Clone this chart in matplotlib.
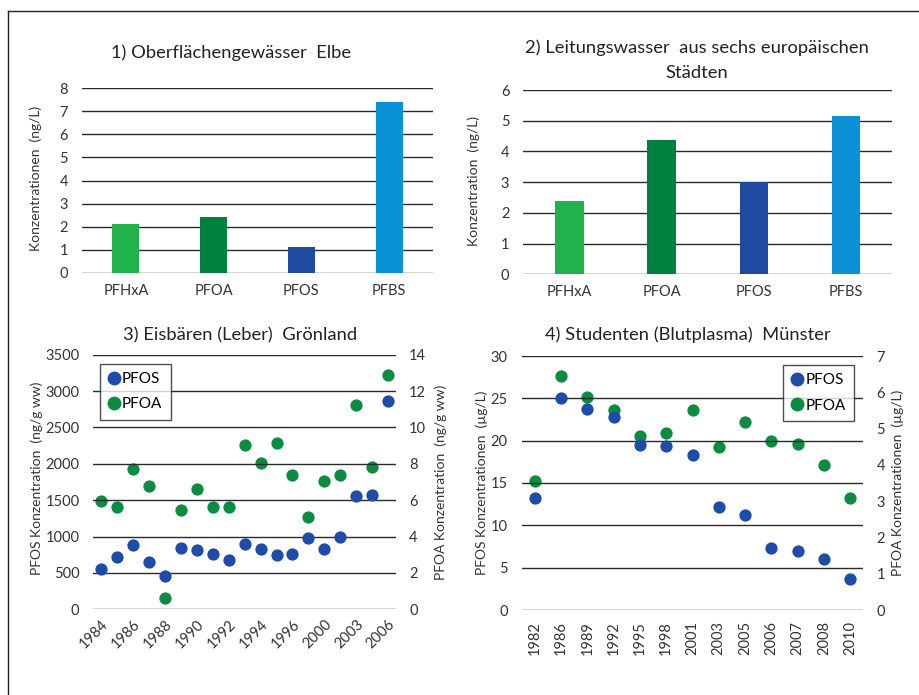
import matplotlib
matplotlib.use("Agg")
import matplotlib.pyplot as plt
import numpy as np
from matplotlib.lines import Line2D

plt.rcParams['font.family'] = ['Lato', 'DejaVu Sans']

# ---------------- data ----------------
compounds = ['PFHxA', 'PFOA', 'PFOS', 'PFBS']
elbe_values = [2.1, 2.4, 1.1, 7.4]
tap_values = [2.4, 4.37, 3.0, 5.15]

bear_years = ['1984', '1985', '1986', '1987', '1988', '1989', '1990', '1991',
              '1992', '1993', '1994', '1995', '1996', '1998', '2000', '2002',
              '2003', '2004', '2006']
bear_pfos = [555, 715, 885, 645, 455, 845, 820, 765, 675, 900, 830, 750,
             765, 975, 830, 990, 1555, 1565, 2870]
bear_pfoa = [5.95, 5.6, 7.7, 6.8, 0.6, 5.45, 6.6, 5.6, 5.6, 9.05, 8.05, 9.15,
             7.4, 5.05, 7.05, 7.4, 11.25, 7.8, 12.9]

stud_years = ['1982', '1986', '1989', '1992', '1995', '1998', '2001', '2003',
              '2005', '2006', '2007', '2008', '2010']
stud_pfos = [13.2, 25.0, 23.7, 22.8, 19.5, 19.4, 18.3, 12.2, 11.2, 7.3, 7.0,
             6.0, 3.7]
stud_pfoa = [3.56, 6.46, 5.88, 5.5, 4.79, 4.87, 5.5, 4.48, 5.19, 4.67, 4.58,
             4.0, 3.08]

bar_colors = ['#22B24C', '#00813F', '#1E4AA0', '#0B92D6']
c_blue = '#1F4CA8'
c_green = '#0E8B42'
grid_c = '#2a2a2a'
txt_c = '#333333'

W, H = 919, 695
fig = plt.figure(figsize=(W / 100, H / 100), dpi=100)


def ax_px(l, r, t, b):
    return fig.add_axes([l / W, 1 - b / H, (r - l) / W, (b - t) / H])


def ftext(x, y, s, **kw):
    fig.text(x / W, 1 - y / H, s, **kw)


def style(ax):
    for sp in ax.spines.values():
        sp.set_visible(False)
    ax.tick_params(length=0, colors=txt_c, labelsize=10.5)
    ax.yaxis.grid(True, color=grid_c, lw=1.0)
    ax.set_axisbelow(True)


# frame
fig.add_artist(Line2D([8 / W, 1], [1 - 11 / H, 1 - 11 / H], color='#222222', lw=1.0))
fig.add_artist(Line2D([8 / W, 8 / W], [1 - 11 / H, 0], color='#222222', lw=1.0))

# ---------------- panel 1 ----------------
ax1 = ax_px(82, 433, 88.3, 272.7)
style(ax1)
x = np.arange(len(compounds))
ax1.bar(x, elbe_values, width=0.31, color=bar_colors, zorder=3)
ax1.set_xlim(-0.5, 3.5)
ax1.set_ylim(0, 8)
ax1.set_yticks(range(0, 9))
ax1.set_xticks(x, compounds)
ax1.tick_params(axis='y', pad=10)
ax1.tick_params(axis='x', pad=8)
ftext(231, 53, '1) Oberflächengewässer  Elbe', ha='center', va='center',
      fontsize=13.2, color='#222222')
ftext(36, 178, 'Konzentrationen  (ng/L)', rotation=90, ha='center', va='center',
      fontsize=10, color=txt_c)

# ---------------- panel 2 ----------------
ax2 = ax_px(523.3, 892.3, 90, 274.3)
style(ax2)
ax2.bar(x, tap_values, width=0.31, color=bar_colors, zorder=3)
ax2.set_xlim(-0.5, 3.5)
ax2.set_ylim(0, 6)
ax2.set_yticks(range(0, 7))
ax2.set_xticks(x, compounds)
ax2.tick_params(axis='y', pad=10)
ax2.tick_params(axis='x', pad=8)
ftext(697, 48, '2) Leitungswasser  aus sechs europäischen', ha='center', va='center',
      fontsize=13.2, color='#222222')
ftext(697, 73, 'Städten', ha='center', va='center', fontsize=13.2, color='#222222')
ftext(474, 181, 'Konzentration  (ng/L)', rotation=90, ha='center', va='center',
      fontsize=10, color=txt_c)

# ---------------- panel 3 ----------------
ax3 = ax_px(93.3, 396, 354.7, 609.3)
style(ax3)
xb = np.arange(len(bear_years))
ax3.set_xlim(-0.5, len(bear_years) - 0.5)
ax3.set_ylim(0, 3500)
ax3.set_yticks(range(0, 3501, 500))
ax3.set_xticks(xb[::2], bear_years[::2], rotation=45, ha='right', va='top',
               rotation_mode='anchor')
ax3.tick_params(axis='y', pad=10)
ax3.tick_params(axis='x', pad=6)
ax3b = ax3.twinx()
for sp in ax3b.spines.values():
    sp.set_visible(False)
ax3b.set_ylim(0, 14)
ax3b.set_yticks(range(0, 15, 2))
ax3b.tick_params(length=0, colors=txt_c, labelsize=10.5, pad=9.5)
ax3b.scatter(xb, bear_pfoa, s=78, color=c_green, zorder=4, linewidths=0)
ax3.scatter(xb, bear_pfos, s=78, color=c_blue, zorder=5, linewidths=0)
ax3.set_zorder(ax3b.get_zorder() + 1)
ax3.patch.set_visible(False)
h1 = Line2D([], [], marker='o', ls='', color=c_blue, markersize=9)
h2 = Line2D([], [], marker='o', ls='', color=c_green, markersize=9)
leg3 = ax3.legend([h1, h2], ['PFOS', 'PFOA'], loc='upper left',
                  bbox_to_anchor=(0.022, 0.965), frameon=True, fancybox=False,
                  edgecolor='#222222', handlelength=0.7, handletextpad=0.2,
                  borderpad=0.55, labelspacing=0.75, fontsize=11,
                  borderaxespad=0)
leg3.get_frame().set_linewidth(1.0)
ftext(240, 335, '3) Eisbären (Leber)  Grönland', ha='center', va='center',
      fontsize=13.2, color='#222222')
ftext(37, 478, 'PFOS Konzentration  (ng/g ww)', rotation=90, ha='center', va='center',
      fontsize=10, color=txt_c)
ftext(441, 482, 'PFOA Konzentration  (ng/g ww)', rotation=90, ha='center', va='center',
      fontsize=10, color=txt_c)

# ---------------- panel 4 ----------------
ax4 = ax_px(521.7, 863.3, 356, 610)
style(ax4)
xs = np.arange(len(stud_years))
ax4.set_xlim(-0.5, len(stud_years) - 0.5)
ax4.set_ylim(0, 30)
ax4.set_yticks(range(0, 31, 5))
ax4.set_xticks(xs, stud_years, rotation=90)
ax4.tick_params(axis='y', pad=10)
ax4.tick_params(axis='x', pad=8)
ax4b = ax4.twinx()
for sp in ax4b.spines.values():
    sp.set_visible(False)
ax4b.set_ylim(0, 7)
ax4b.set_yticks(range(0, 8))
ax4b.tick_params(length=0, colors=txt_c, labelsize=10.5, pad=9.5)
ax4b.scatter(xs, stud_pfoa, s=78, color=c_green, zorder=4, linewidths=0)
ax4.scatter(xs, stud_pfos, s=78, color=c_blue, zorder=5, linewidths=0)
ax4.set_zorder(ax4b.get_zorder() + 1)
ax4.patch.set_visible(False)
leg4 = ax4.legend([h1, h2], ['PFOS', 'PFOA'], loc='upper right',
                  bbox_to_anchor=(0.973, 0.965), frameon=True, fancybox=False,
                  edgecolor='#222222', handlelength=0.7, handletextpad=0.2,
                  borderpad=0.55, labelspacing=0.75, fontsize=11,
                  borderaxespad=0)
leg4.get_frame().set_linewidth(1.0)
ftext(688, 335, '4) Studenten (Blutplasma)  Münster', ha='center', va='center',
      fontsize=13.2, color='#222222')
ftext(482, 483, 'PFOS Konzentrationen  (µg/L)', rotation=90, ha='center', va='center',
      fontsize=10, color=txt_c)
ftext(898, 483, 'PFOA Konzentrationen  (µg/L)', rotation=90, ha='center', va='center',
      fontsize=10, color=txt_c)

fig.savefig('out.png', dpi=100, facecolor='white')
